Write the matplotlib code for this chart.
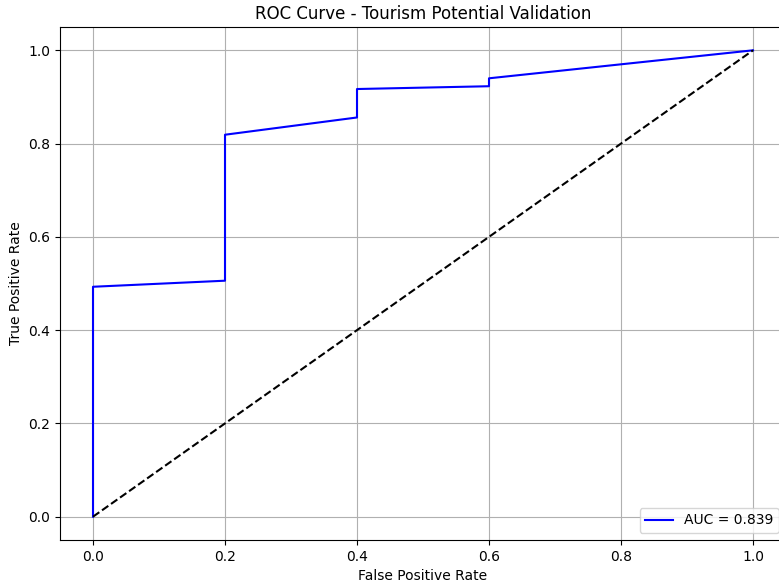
import matplotlib
matplotlib.use("Agg")
import matplotlib.pyplot as plt

# ROC points
fpr = [0.0, 0.0, 0.2, 0.2, 0.4, 0.4, 0.6, 0.6, 1.0]
tpr = [0.0, 0.493, 0.506, 0.819, 0.856, 0.917, 0.923, 0.940, 1.0]
auc_value = 0.839

chance = [0.0, 1.0]


def main():
    fig = plt.figure(figsize=(7.79, 5.87), dpi=100)
    # axes run past the right edge of the picture, as in the reference
    ax = fig.add_axes([60 / 779, 47 / 587, 726 / 779, 513 / 587])

    ax.plot(fpr, tpr, color="blue", label=f"AUC = {auc_value:.3f}")
    ax.plot(chance, chance, color="black", linestyle="--")

    ax.set_xlim(-0.05, 1.05)
    ax.set_ylim(-0.05, 1.05)
    ax.set_xlabel("False Positive Rate")
    ax.set_ylabel("True Positive Rate")
    ax.set_title("ROC Curve - Tourism Potential Validation")
    ax.legend(loc="lower right")
    ax.grid(True)

    fig.savefig("out.png", dpi=100)


if __name__ == "__main__":
    main()
